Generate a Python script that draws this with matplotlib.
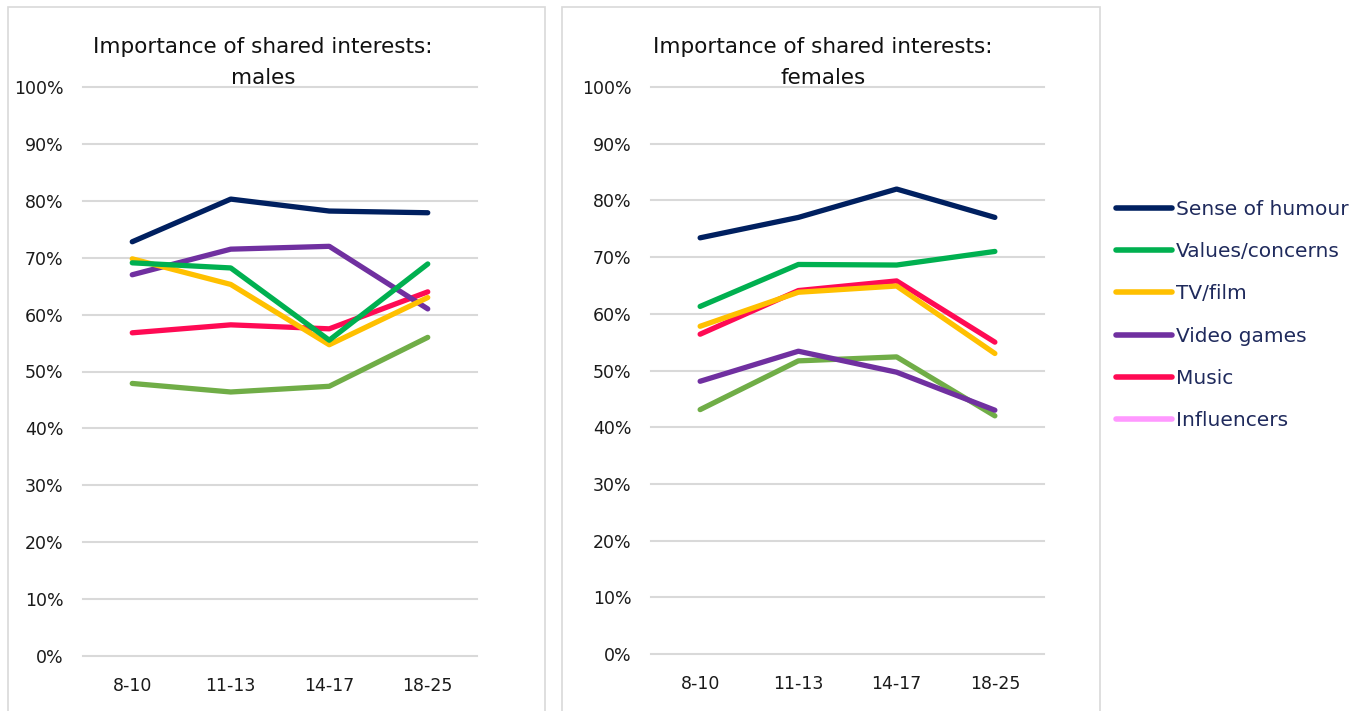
import matplotlib
matplotlib.use("Agg")
import matplotlib.pyplot as plt
from matplotlib.lines import Line2D
from matplotlib.patches import Rectangle
from matplotlib.ticker import PercentFormatter

age_groups = ["8-10", "11-13", "14-17", "18-25"]
series_names = ["Sense of humour", "Values/concerns", "TV/film", "Video games", "Music", "Influencers"]

males_humour = [72.8, 80.3, 78.2, 77.9]
males_values = [69.1, 68.2, 55.5, 68.9]
males_tvfilm = [69.8, 65.3, 54.7, 63.0]
males_games = [67.0, 71.5, 72.0, 61.0]
males_music = [56.8, 58.2, 57.5, 64.0]
males_influencers = [47.9, 46.4, 47.4, 56.0]

females_humour = [73.4, 77.0, 82.0, 77.0]
females_values = [61.3, 68.7, 68.6, 71.0]
females_tvfilm = [57.8, 63.8, 64.9, 53.0]
females_games = [48.1, 53.4, 49.7, 43.0]
females_music = [56.4, 64.1, 65.8, 55.0]
females_influencers = [43.1, 51.7, 52.4, 42.0]

y_ticks = [0, 10, 20, 30, 40, 50, 60, 70, 80, 90, 100]

line_colors = ["#002060", "#00B050", "#FFC000", "#7030A0", "#FF0A54", "#70AD47"]
legend_colors = ["#002060", "#00B050", "#FFC000", "#7030A0", "#FF0A54", "#FF99FF"]
draw_order = [5, 4, 3, 2, 1, 0]

plt.rcParams['font.family'] = ['DejaVu Sans']

fig = plt.figure(figsize=(13.63, 7.11), dpi=100)
W, H = 1363, 711

# panel borders
for x0, x1 in [(8, 545), (562, 1100)]:
    fig.patches.append(Rectangle((x0 / W, -0.01), (x1 - x0) / W, 1 - 7 / H + 0.01,
                                 transform=fig.transFigure, fill=False,
                                 edgecolor="#D9D9D9", linewidth=1.2))

panels = [
    ((83 / W, 1 - 656 / H, 394 / W, (656 - 87) / H), "males",
     [males_humour, males_values, males_tvfilm, males_games, males_music, males_influencers], 263),
    ((651 / W, 1 - 654 / H, 393 / W, (654 - 87) / H), "females",
     [females_humour, females_values, females_tvfilm, females_games, females_music, females_influencers], 823),
]

for rect, label, data, tx in panels:
    ax = fig.add_axes(rect)
    xs = range(len(age_groups))
    for i in draw_order:
        ax.plot(xs, data[i], color=line_colors[i], lw=3.8, solid_capstyle='round',
                solid_joinstyle='round', zorder=3)
    ax.set_ylim(0, 100)
    ax.set_xlim(-0.5, 3.5)
    ax.set_yticks(y_ticks)
    ax.yaxis.set_major_formatter(PercentFormatter(decimals=0))
    ax.set_xticks(list(xs))
    ax.set_xticklabels(age_groups)
    ax.grid(axis='y', color="#D9D9D9", lw=1.5, zorder=0)
    for gl in ax.get_ygridlines():
        gl.set_clip_on(False)
    for s in ax.spines.values():
        s.set_visible(False)
    ax.tick_params(axis='y', length=0, labelsize=12.5, colors="#1a1a1a", pad=14)
    ax.tick_params(axis='x', length=0, labelsize=12.5, colors="#1a1a1a", pad=15)
    fig.text(tx / W, 1 - 47 / H, "Importance of shared interests:", ha='center', va='center',
             fontsize=15.5, color="#111111")
    fig.text(tx / W, 1 - 78 / H, label, ha='center', va='center', fontsize=15.5, color="#111111")

handles = [Line2D([0], [0], color=c, lw=4, solid_capstyle='round') for c in legend_colors]
leg = fig.legend(handles, series_names, loc='upper left', bbox_to_anchor=(1098 / W, 1 - 182 / H),
                 frameon=False, handlelength=2.75, handletextpad=0.2,
                 labelspacing=1.15, prop={'family': 'DejaVu Sans', 'size': 14.5})
for t in leg.get_texts():
    t.set_color("#1F2A5C")

fig.savefig("out.png", dpi=100, facecolor='white')
